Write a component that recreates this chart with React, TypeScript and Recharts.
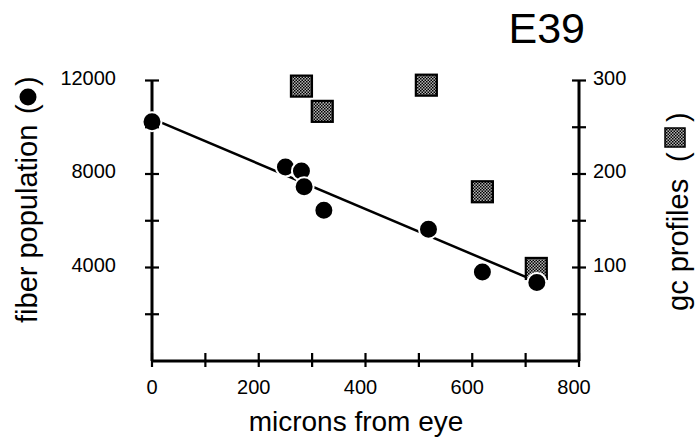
import React from 'react';
import { ComposedChart, Scatter, XAxis, YAxis } from 'recharts';

// microns from eye vs. fiber population (circles, left axis)
const fiberMicrons = [0, 250, 280, 285, 322, 518, 619, 721];
const fiberCounts = [10240, 8300, 8130, 7450, 6450, 5640, 3810, 3360];

// microns from eye vs. gc profiles (squares, right axis)
const gcMicrons = [280, 319, 514, 619, 720];
const gcCounts = [294, 267, 295, 181, 99];

// regression line through the fiber counts
const fitMicrons = [0, 700];
const fitCounts = [10370, 3600];

const xTicks = [0, 100, 200, 300, 400, 500, 600, 700, 800];
const xLabels = [0, 200, 400, 600, 800];
const leftTicks = [0, 2000, 4000, 6000, 8000, 10000, 12000];
const leftLabels = [4000, 8000, 12000];
const rightTicks = [0, 50, 100, 150, 200, 250, 300];
const rightLabels = [100, 200, 300];

const FONT = 'Liberation Sans, Arial, Helvetica, sans-serif';

const fiberData = fiberMicrons.map((x, i) => ({ x, y: fiberCounts[i] }));
const gcData = gcMicrons.map((x, i) => ({ x, y: gcCounts[i] }));
const fitData = fitMicrons.map((x, i) => ({ x, y: fitCounts[i] }));

const XTick = (props: any) => {
  const { x, y, payload } = props;
  const v = payload.value;
  return (
    <g>
      <line x1={x} x2={x} y1={y - 8} y2={y + 6} stroke="#000" strokeWidth={2.2} />
      {xLabels.includes(v) && (
        <text x={x - (v ? 5 : 0)} y={y + 33} textAnchor="middle" fontSize={20} fontFamily={FONT} fill="#000">
          {v}
        </text>
      )}
    </g>
  );
};

const LeftTick = (props: any) => {
  const { x, y, payload } = props;
  const v = payload.value;
  if (v === 0) return <g />;
  return (
    <g>
      <line x1={x - 7} x2={x + 7} y1={y} y2={y} stroke="#000" strokeWidth={2.2} />
      {leftLabels.includes(v) && (
        <text x={x - 36} y={y + 4} textAnchor="end" fontSize={20} fontFamily={FONT} fill="#000">
          {v}
        </text>
      )}
    </g>
  );
};

const RightTick = (props: any) => {
  const { x, y, payload } = props;
  const v = payload.value;
  if (v === 0) return <g />;
  return (
    <g>
      <line x1={x - 7} x2={x + 7} y1={y} y2={y} stroke="#000" strokeWidth={2.2} />
      {rightLabels.includes(v) && (
        <text x={x + 14} y={y + 4} textAnchor="start" fontSize={20} fontFamily={FONT} fill="#000">
          {v}
        </text>
      )}
    </g>
  );
};

const Dot = (props: any) => (
  <circle cx={props.cx} cy={props.cy} r={9.5} fill="#000" stroke="#fff" strokeWidth={2} />
);

const Box = (props: any) => (
  <rect x={props.cx - 10.5} y={props.cy - 10.5} width={21} height={21} fill="url(#stipple)" stroke="#000" strokeWidth={2.2} />
);

export default function App() {
  return (
    <div style={{ position: 'absolute', left: 0, top: 0, width: 700, height: 439, background: '#fff' }}>
      <ComposedChart width={700} height={439} margin={{ top: 80.5, right: 21, bottom: 18, left: 52 }}>
        <defs>
          <pattern id="stipple" patternUnits="userSpaceOnUse" width={3} height={3}>
            <rect width={3} height={3} fill="#b4b4b4" />
            <rect width={1.5} height={1.5} fill="#000" />
            <rect x={1.5} y={1.5} width={1.5} height={1.5} fill="#000" />
          </pattern>
        </defs>
        <XAxis
          dataKey="x"
          type="number"
          domain={[0, 800]}
          ticks={xTicks}
          interval={0}
          height={60}
          tickSize={0}
          tickMargin={0}
          tickLine={false}
          tick={<XTick />}
          axisLine={{ stroke: '#000', strokeWidth: 3 }}
        />
        <YAxis
          yAxisId="left"
          dataKey="y"
          type="number"
          domain={[0, 12000]}
          ticks={leftTicks}
          interval={0}
          width={100}
          tickSize={0}
          tickMargin={0}
          tickLine={false}
          tick={<LeftTick />}
          axisLine={{ stroke: '#000', strokeWidth: 3 }}
        />
        <YAxis
          yAxisId="right"
          orientation="right"
          dataKey="y"
          type="number"
          domain={[0, 300]}
          ticks={rightTicks}
          interval={0}
          width={100}
          tickSize={0}
          tickMargin={0}
          tickLine={false}
          tick={<RightTick />}
          axisLine={{ stroke: '#000', strokeWidth: 3 }}
        />
        <Scatter yAxisId="right" data={gcData} shape={<Box />} isAnimationActive={false} />
        <Scatter
          yAxisId="left"
          data={fitData}
          line={{ stroke: '#000', strokeWidth: 2.5 }}
          shape={() => <g />}
          isAnimationActive={false}
        />
        <Scatter yAxisId="left" data={fiberData} shape={<Dot />} isAnimationActive={false} />

        <text x={585} y={43} textAnchor="end" fontSize={43} fontFamily={FONT} fill="#000">
          E39
        </text>
        <text x={356} y={431} textAnchor="middle" fontSize={28} fontFamily={FONT} fill="#000">
          microns from eye
        </text>

        <g fontFamily={FONT} fontSize={29} fill="#000">
          <text x={37} y={323} transform="rotate(-90, 37, 323)">fiber population</text>
          <text x={37} y={114} transform="rotate(-90, 37, 114)">(</text>
          <circle cx={28} cy={97} r={8.5} fill="#000" />
          <text x={37} y={86} transform="rotate(-90, 37, 86)">)</text>

          <text x={688} y={311} transform="rotate(-90, 688, 311)">gc profiles</text>
          <text x={688} y={162} transform="rotate(-90, 688, 162)">(</text>
          <rect x={665} y={128} width={20} height={19} fill="url(#stipple)" stroke="#000" strokeWidth={1.5} />
          <text x={688} y={122} transform="rotate(-90, 688, 122)">)</text>
        </g>
      </ComposedChart>
    </div>
  );
}
